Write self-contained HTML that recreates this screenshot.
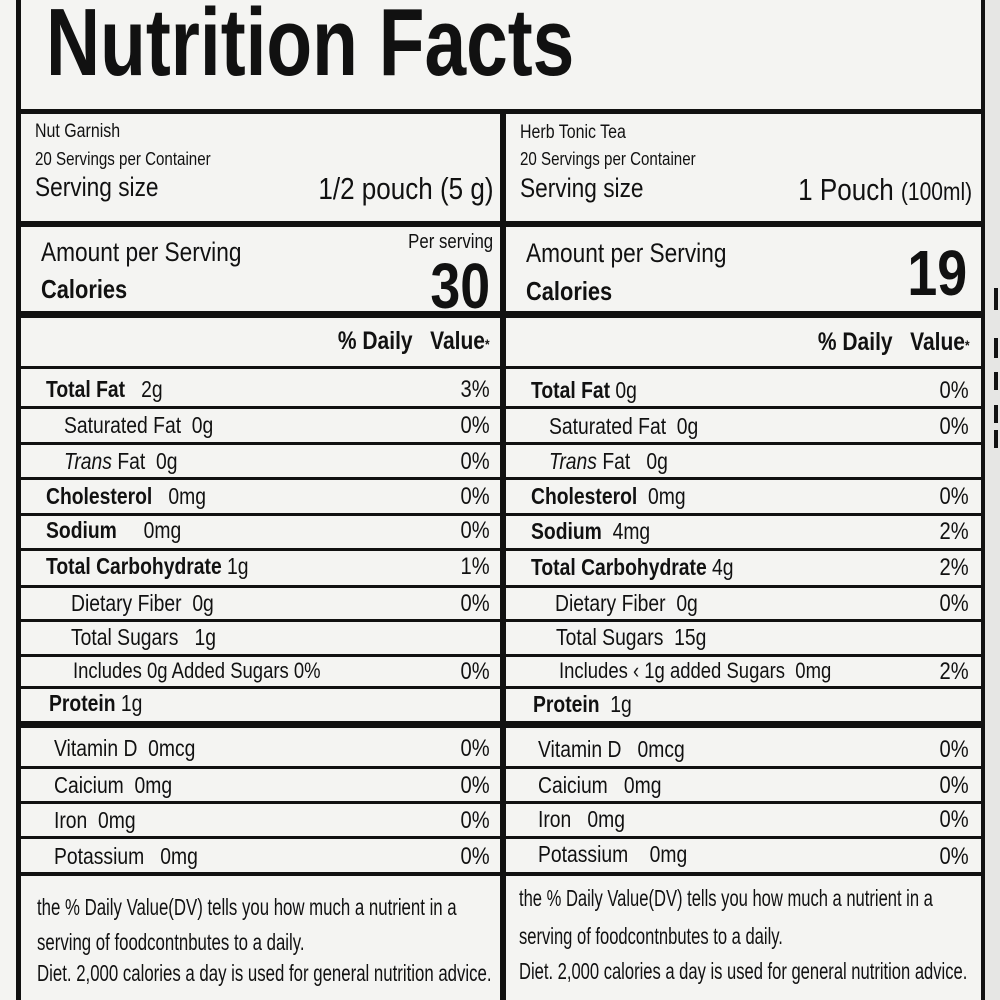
<!DOCTYPE html>
<html><head><meta charset="utf-8"><style>
body{margin:0;width:1000px;height:1000px;overflow:hidden;background:#f4f4f2;position:relative;font-family:"Liberation Sans",sans-serif;color:#111}
.l{position:absolute;background:#111}
.t{position:absolute;white-space:nowrap;line-height:1;transform-origin:0 0;transform:scaleX(.84)}
.r{position:absolute;white-space:nowrap;line-height:1;transform-origin:100% 0;transform:scaleX(.84)}
.b{font-weight:bold}
.f{position:absolute;white-space:nowrap;line-height:1;transform-origin:0 0;transform:scaleX(.73);font-size:23px}
</style></head><body>
<div style="position:absolute;left:985px;top:0;width:15px;height:1000px;background:#e6e6e4"></div>
<div class="l" style="left:994px;top:288px;width:4px;height:22px"></div>
<div class="l" style="left:994px;top:338px;width:4px;height:20px"></div>
<div class="l" style="left:994px;top:372px;width:4px;height:18px"></div>
<div class="l" style="left:994px;top:405px;width:4px;height:18px"></div>
<div class="l" style="left:994px;top:430px;width:4px;height:18px"></div>
<!-- frame -->
<div class="l" style="left:16px;top:0;width:5px;height:1000px"></div>
<div class="l" style="left:981px;top:0;width:4px;height:1000px"></div>
<div class="l" style="left:500px;top:110px;width:6px;height:890px"></div>
<div class="l" style="left:16px;top:109px;width:969px;height:5px"></div>
<div class="l" style="left:16px;top:221px;width:969px;height:6px"></div>
<div class="l" style="left:16px;top:311px;width:969px;height:7px"></div>
<div class="l" style="left:16px;top:366px;width:969px;height:3px"></div>
<div class="l" style="left:16px;top:406px;width:969px;height:3px"></div>
<div class="l" style="left:16px;top:442px;width:969px;height:3px"></div>
<div class="l" style="left:16px;top:477px;width:969px;height:3px"></div>
<div class="l" style="left:16px;top:513px;width:969px;height:3px"></div>
<div class="l" style="left:16px;top:548px;width:969px;height:3px"></div>
<div class="l" style="left:16px;top:585px;width:969px;height:3px"></div>
<div class="l" style="left:16px;top:619px;width:969px;height:3px"></div>
<div class="l" style="left:16px;top:654px;width:969px;height:3px"></div>
<div class="l" style="left:16px;top:686px;width:969px;height:3px"></div>
<div class="l" style="left:16px;top:721px;width:969px;height:7px"></div>
<div class="l" style="left:16px;top:766px;width:969px;height:3px"></div>
<div class="l" style="left:16px;top:801px;width:969px;height:3px"></div>
<div class="l" style="left:16px;top:836px;width:969px;height:3px"></div>
<div class="l" style="left:16px;top:872px;width:969px;height:4px"></div>

<div class="t b" style="left:46px;top:-5px;font-size:96px;transform:scaleX(.78)">Nutrition Facts</div>

<!-- left column -->
<div class="t" style="left:35px;top:122px;font-size:19px">Nut Garnish</div>
<div class="t" style="left:35px;top:150px;font-size:18px">20 Servings per Container</div>
<div class="t" style="left:35px;top:174px;font-size:27px">Serving size</div>
<div class="r" style="right:506px;top:173px;font-size:31px">1/2 pouch (5 g)</div>
<div class="t" style="left:41px;top:239px;font-size:27px">Amount per Serving</div>
<div class="t b" style="left:41px;top:276px;font-size:26px">Calories</div>
<div class="r" style="right:507px;top:232px;font-size:20px">Per serving</div>
<div class="r b" style="right:510px;top:254px;font-size:64px">30</div>
<div class="r b" style="right:510px;top:329px;font-size:25px">% Daily&nbsp;&nbsp;&nbsp;Value<span style="font-size:14px">*</span></div>

<!-- right column -->
<div class="t" style="left:520px;top:123px;font-size:19px">Herb Tonic Tea</div>
<div class="t" style="left:520px;top:150px;font-size:18px">20 Servings per Container</div>
<div class="t" style="left:520px;top:175px;font-size:27px">Serving size</div>
<div class="r" style="right:28px;top:174px;font-size:31px">1 Pouch <span style="font-size:25px">(100ml)</span></div>
<div class="t" style="left:526px;top:240px;font-size:27px">Amount per Serving</div>
<div class="t b" style="left:526px;top:278px;font-size:26px">Calories</div>
<div class="r b" style="right:33px;top:241px;font-size:64px">19</div>
<div class="r b" style="right:30px;top:330px;font-size:25px">% Daily&nbsp;&nbsp;&nbsp;Value<span style="font-size:14px">*</span></div>

<!-- rows left -->
<div class="t" style="left:46px;top:378px;font-size:23px"><b>Total Fat</b>&nbsp;&nbsp;&nbsp;2g</div><div class="r" style="right:510px;top:378px;font-size:24px">3%</div>
<div class="t" style="left:64px;top:414px;font-size:23px">Saturated Fat&nbsp;&nbsp;0g</div><div class="r" style="right:510px;top:414px;font-size:24px">0%</div>
<div class="t" style="left:64px;top:450px;font-size:23px"><i>Trans</i> Fat&nbsp;&nbsp;0g</div><div class="r" style="right:510px;top:450px;font-size:24px">0%</div>
<div class="t" style="left:46px;top:485px;font-size:23px"><b>Cholesterol</b>&nbsp;&nbsp;&nbsp;0mg</div><div class="r" style="right:510px;top:485px;font-size:24px">0%</div>
<div class="t" style="left:46px;top:519px;font-size:23px"><b>Sodium</b>&nbsp;&nbsp;&nbsp;&nbsp;&nbsp;0mg</div><div class="r" style="right:510px;top:519px;font-size:24px">0%</div>
<div class="t" style="left:46px;top:555px;font-size:23px"><b>Total Carbohydrate</b>&nbsp;1g</div><div class="r" style="right:510px;top:555px;font-size:24px">1%</div>
<div class="t" style="left:71px;top:592px;font-size:23px">Dietary Fiber&nbsp;&nbsp;0g</div><div class="r" style="right:510px;top:592px;font-size:24px">0%</div>
<div class="t" style="left:71px;top:626px;font-size:23px">Total Sugars&nbsp;&nbsp;&nbsp;1g</div>
<div class="t" style="left:73px;top:660px;font-size:22px">Includes 0g Added Sugars 0%</div><div class="r" style="right:510px;top:660px;font-size:24px">0%</div>
<div class="t b" style="left:49px;top:692px;font-size:23px">Protein <span style="font-weight:normal">1g</span></div>
<div class="t" style="left:54px;top:737px;font-size:23px">Vitamin D&nbsp;&nbsp;0mcg</div><div class="r" style="right:510px;top:737px;font-size:24px">0%</div>
<div class="t" style="left:54px;top:774px;font-size:23px">Caicium&nbsp;&nbsp;0mg</div><div class="r" style="right:510px;top:774px;font-size:24px">0%</div>
<div class="t" style="left:54px;top:809px;font-size:23px">Iron&nbsp;&nbsp;0mg</div><div class="r" style="right:510px;top:809px;font-size:24px">0%</div>
<div class="t" style="left:54px;top:845px;font-size:23px">Potassium&nbsp;&nbsp;&nbsp;0mg</div><div class="r" style="right:510px;top:845px;font-size:24px">0%</div>
<div class="f" style="left:37px;top:896px">the % Daily Value(DV) tells you how much a nutrient in a</div>
<div class="f" style="left:37px;top:931px">serving of foodcontnbutes to a daily.</div>
<div class="f" style="left:37px;top:962px">Diet. 2,000 calories a day is used for general nutrition advice.</div>

<!-- rows right -->
<div class="t" style="left:531px;top:379px;font-size:23px"><b>Total Fat</b>&nbsp;0g</div><div class="r" style="right:31px;top:379px;font-size:24px">0%</div>
<div class="t" style="left:549px;top:415px;font-size:23px">Saturated Fat&nbsp;&nbsp;0g</div><div class="r" style="right:31px;top:415px;font-size:24px">0%</div>
<div class="t" style="left:549px;top:450px;font-size:23px"><i>Trans</i> Fat&nbsp;&nbsp;&nbsp;0g</div>
<div class="t" style="left:531px;top:485px;font-size:23px"><b>Cholesterol</b>&nbsp;&nbsp;0mg</div><div class="r" style="right:31px;top:485px;font-size:24px">0%</div>
<div class="t" style="left:531px;top:520px;font-size:23px"><b>Sodium</b>&nbsp;&nbsp;4mg</div><div class="r" style="right:31px;top:520px;font-size:24px">2%</div>
<div class="t" style="left:531px;top:556px;font-size:23px"><b>Total Carbohydrate</b>&nbsp;4g</div><div class="r" style="right:31px;top:556px;font-size:24px">2%</div>
<div class="t" style="left:555px;top:592px;font-size:23px">Dietary Fiber&nbsp;&nbsp;0g</div><div class="r" style="right:31px;top:592px;font-size:24px">0%</div>
<div class="t" style="left:556px;top:626px;font-size:23px">Total Sugars&nbsp;&nbsp;15g</div>
<div class="t" style="left:559px;top:660px;font-size:22px">Includes ‹ 1g added Sugars&nbsp;&nbsp;0mg</div><div class="r" style="right:31px;top:660px;font-size:24px">2%</div>
<div class="t b" style="left:533px;top:693px;font-size:23px">Protein&nbsp;&nbsp;<span style="font-weight:normal">1g</span></div>
<div class="t" style="left:538px;top:738px;font-size:23px">Vitamin D&nbsp;&nbsp;&nbsp;0mcg</div><div class="r" style="right:31px;top:738px;font-size:24px">0%</div>
<div class="t" style="left:538px;top:774px;font-size:23px">Caicium&nbsp;&nbsp;&nbsp;0mg</div><div class="r" style="right:31px;top:774px;font-size:24px">0%</div>
<div class="t" style="left:538px;top:808px;font-size:23px">Iron&nbsp;&nbsp;&nbsp;0mg</div><div class="r" style="right:31px;top:808px;font-size:24px">0%</div>
<div class="t" style="left:538px;top:843px;font-size:23px">Potassium&nbsp;&nbsp;&nbsp;&nbsp;0mg</div><div class="r" style="right:31px;top:845px;font-size:24px">0%</div>
<div class="f" style="left:519px;top:887px;transform:scaleX(.72)">the % Daily Value(DV) tells you how much a nutrient in a</div>
<div class="f" style="left:519px;top:925px;transform:scaleX(.72)">serving of foodcontnbutes to a daily.</div>
<div class="f" style="left:519px;top:960px;transform:scaleX(.72)">Diet. 2,000 calories a day is used for general nutrition advice.</div>
</body></html>
